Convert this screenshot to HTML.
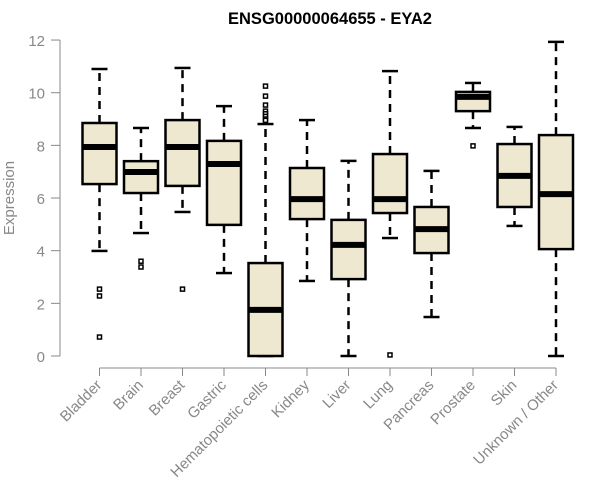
<!DOCTYPE html>
<html><head><meta charset="utf-8"><style>
body{margin:0;background:#fff}
svg{display:block;font-family:"Liberation Sans",Arial,sans-serif}
</style></head><body>
<svg id="chart" width="600" height="500">
<text x="330" y="24" text-anchor="middle" font-size="16.5" font-weight="bold">ENSG00000064655 - EYA2</text>
<text transform="translate(14,198) rotate(-90)" text-anchor="middle" font-size="15" fill="#888">Expression</text>
</svg>
<script>
const categories=["Bladder","Brain","Breast","Gastric","Hematopoietic cells","Kidney","Liver","Lung","Pancreas","Prostate","Skin","Unknown / Other"];
const whiskerLow=[3.99,4.67,5.47,3.15,0,2.85,0,4.48,1.48,8.66,4.94,0];
const q1=[6.53,6.19,6.46,4.98,0,5.2,2.92,5.43,3.91,9.3,5.66,4.06];
const medians=[7.94,6.99,7.94,7.29,1.75,5.96,4.22,5.96,4.82,9.84,6.84,6.15];
const q3=[8.85,7.4,8.96,8.17,3.53,7.14,5.17,7.67,5.66,10.03,8.05,8.39];
const whiskerHigh=[10.9,8.66,10.94,9.49,8.81,8.96,7.41,10.82,7.03,10.37,8.7,11.93];
const outliers=[[2.54,2.28,0.72],[3.6,3.38],[2.54],[],[10.25,9.87,9.53,9.3,9.2,9.1,9.0,8.95],[],[],[0.04],[],[7.98],[],[]];
const yTicks=[0,2,4,6,8,10,12];
const svg=document.getElementById('chart');const NS='http://www.w3.org/2000/svg';
const y=v=>356-v*26.33;const x=i=>99.5+i*41.5;
function mk(t,a,p){const e=document.createElementNS(NS,t);for(const k in a)e.setAttribute(k,a[k]);(p||svg).appendChild(e);return e;}
const ax=mk('g',{});


mk('line',{x1:60,x2:60,y1:y(0),y2:y(12),stroke:'#888'},ax);
yTicks.forEach(t=>{mk('line',{x1:51,x2:60,y1:y(t),y2:y(t),stroke:'#888'},ax);
const tx=mk('text',{x:45,y:y(t)+6,'text-anchor':'end','font-size':15,fill:'#888'},ax);tx.textContent=t;

});
const xa=mk('g',{});


mk('line',{x1:x(0),x2:x(categories.length-1),y1:368,y2:368,stroke:'#888'},xa);
categories.forEach((c,i)=>{
mk('line',{x1:x(i),x2:x(i),y1:368,y2:376,stroke:'#888'},xa);
const tx=mk('text',{x:x(i)+3,y:386,'text-anchor':'end','font-size':15,fill:'#888',transform:`rotate(-45 ${x(i)+3} 386)`},xa);tx.textContent=c;


const g=mk('g',{});


const cx=x(i);
mk('line',{x1:cx,x2:cx,y1:y(q3[i]),y2:y(whiskerHigh[i]),stroke:'#000','stroke-width':2.5,'stroke-dasharray':'8,6'},g);
mk('line',{x1:cx,x2:cx,y1:y(q1[i]),y2:y(whiskerLow[i]),stroke:'#000','stroke-width':2.5,'stroke-dasharray':'8,6'},g);
mk('line',{x1:cx-8,x2:cx+8,y1:y(whiskerHigh[i]),y2:y(whiskerHigh[i]),stroke:'#000','stroke-width':2.5},g);
mk('line',{x1:cx-8,x2:cx+8,y1:y(whiskerLow[i]),y2:y(whiskerLow[i]),stroke:'#000','stroke-width':2.5},g);
mk('rect',{x:cx-17,y:y(q3[i]),width:34,height:Math.max(0,y(q1[i])-y(q3[i])),fill:'#ede8cf',stroke:'#000','stroke-width':2.5},g);
mk('line',{x1:cx-17,x2:cx+17,y1:y(medians[i]),y2:y(medians[i]),stroke:'#000','stroke-width':6},g);
outliers[i].forEach(o=>mk('rect',{x:cx-2,y:y(o)-2,width:4,height:4,fill:'#fff',stroke:'#000','stroke-width':1.5},g));
});
</script>
</body></html>
